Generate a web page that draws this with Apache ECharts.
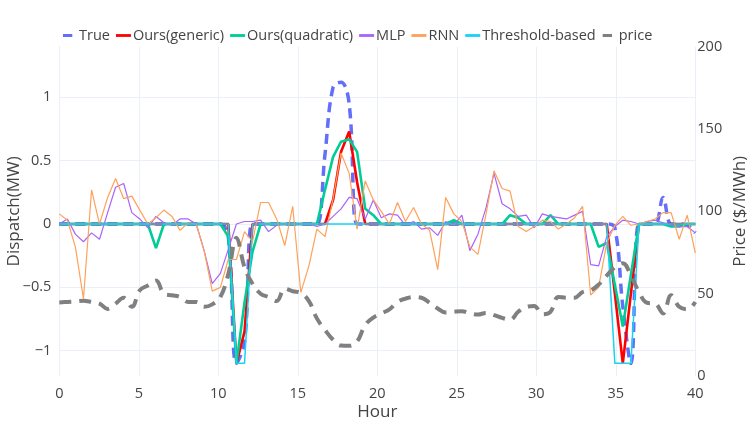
<!DOCTYPE html>
<html><head><meta charset="utf-8">
<script src="https://cdn.jsdelivr.net/npm/echarts@6/dist/echarts.min.js"></script>
<style>html,body{margin:0;padding:0;background:#fff}#c{width:747px;height:421px}</style>
</head><body><div id="c"></div>
<script>
const hours = [0,0.51,1.01,1.52,2.03,2.53,3.04,3.54,4.05,4.56,5.06,5.57,6.08,6.58,7.09,7.59,8.10,8.61,9.11,9.62,10.13,10.63,11.14,11.65,12.15,12.66,13.16,13.67,14.18,14.68,15.19,15.70,16.20,16.71,17.22,17.72,18.23,18.73,19.24,19.75,20.25,20.76,21.27,21.77,22.28,22.78,23.29,23.80,24.30,24.81,25.32,25.82,26.33,26.84,27.34,27.85,28.35,28.86,29.37,29.87,30.38,30.89,31.39,31.90,32.41,32.91,33.42,33.92,34.43,34.94,35.44,35.95,36.46,36.96,37.47,37.97,38.48,38.99,39.49,40.00];
const trueDispatch = [0,0,0,0,0,0,0,0,0,0, 0,0,0,0,0,0,0,0,0,0, 0,-0.1,-1.1,-0.93,0,0,0,0,0,0, 0,0,0,0.55,1.08,1.12,0.95,0,0,0, 0,0,0,0,0,0,0,0,0,0, 0,0,0,0,0,0,0,0,0,0, 0,0,0,0,0,0,0,0,0,-0.03, -0.65,-1.1,0,0,0,0.21,0,0,-0.01,-0.07];
const oursGeneric = [0,0,0,0,0,0,0,0,0,0, 0,0,0,0,0,0,0,0,0,0, 0,0,-1.1,-0.85,0,0,0,0,0,0, 0,0,0,0,0.19,0.57,0.73,0.33,0,0, 0,0,0,0,0,0,0,0,0,0, 0,0,0,0,0,0,0,0,0,0, 0,0,0,0,0,0,0,0,0,-0.55, -1.1,-0.55,0,0,0,0,0,0,0,0];
const oursQuadratic = [0,0,0,0,0,0,0,0,0,0, 0,0,-0.19,0,0,0,0,0,0,0, 0,-0.1,-1.1,-0.62,-0.22,0,0,0,0,0, 0,0,0,0.27,0.53,0.65,0.67,0.57,0.12,0.07, 0,0,0,0,0,0,0,0,0,0.03, 0,0,0,0,0,0,0.07,0.05,0,0, 0,0.07,0,0,0,0,0,-0.18,-0.15,-0.48, -0.81,-0.4,0,0,0,0,-0.02,-0.02,0,0];
const mlp = [0,0.04,-0.08,-0.14,-0.07,-0.12,0.09,0.29,0.32,0.09, 0.04,-0.03,0.06,0.01,-0.01,0.04,0.04,0,-0.21,-0.47, -0.39,-0.2,0,0.02,0.02,0.03,-0.06,-0.01,0,0, 0,0,-0.02,0,0.06,0.12,0.21,0.2,0.04,0.19, 0.05,0.08,0.07,-0.01,0.02,-0.04,-0.03,-0.09,0.02,-0.01, 0.07,-0.21,-0.08,0.13,0.4,0.16,0.12,0.06,0.07,-0.03, 0.08,0.06,0.05,0.04,0.07,0.1,-0.32,-0.33,-0.1,-0.02, 0.03,0.02,0,0.02,0.03,0.01,-0.01,-0.02,-0.02,-0.07];
const rnn = [0.08,0.03,-0.18,-0.59,0.27,0,0.21,0.36,0.2,0.22, 0.11,0,0.05,0.11,0.06,-0.05,0.01,0,-0.21,-0.53, -0.5,-0.28,-0.28,-0.06,-0.14,0.17,0.17,0.04,-0.17,0.14, -0.54,-0.33,-0.04,-0.1,0.2,0.56,0.4,-0.04,0.34,0.19, 0.1,0,0.17,0.02,0.13,0,-0.05,-0.36,0.21,0.08, 0.02,-0.18,-0.24,0.08,0.42,0.28,0.26,-0.02,-0.06,-0.02, 0.03,0.02,-0.04,0,0.05,0.14,-0.56,-0.5,-0.15,-0.01, 0.06,-0.01,0,0.02,0.04,0.09,0.09,-0.12,0.07,-0.23];
const thresholdBased = [0,0,0,0,0,0,0,0,0,0, 0,0,0,0,0,0,0,0,0,0, 0,0,-1.1,-1.1,0,0,0,0,0,0, 0,0,0,0,0,0,0,0,0,0, 0,0,0,0,0,0,0,0,0,0, 0,0,0,0,0,0,0,0,0,0, 0,0,0,0,0,0,0,0,0,-1.1, -1.1,-1.1,0,0,0,0,0,0,0,0];
const price = [44.7,45,45.3,45.7,45,44,40.7,44,47.5,42, 52,55,58,50,49,48,45,45,42,43.5, 48,62,84,66,56,50,48,45.5,53,51.5, 50.5,45.5,35,28,22,18.5,18.3,21,31,35.5, 38,40.5,45,47,48,47.5,44.5,41,38.5,39, 39.3,38,37.3,38.3,37,35.3,34.2,39,42,42.5, 37.5,39,48,47.5,47.5,51,52,55.5,61,66, 68.5,61,51,44.5,44,38,49,42,40.5,45];
const dispatchTicks = [-1,-0.5,0,0.5,1];
const seriesNames = ['True','Ours(generic)','Ours(quadratic)','MLP','RNN','Threshold-based','price'];

const pair = arr => hours.map((h,i)=>[h,arr[i]]);
const fmt = v => (v<0 ? '\u2212'+Math.abs(v) : String(v));
const txt = '#444';
const font = 'Open Sans';
const solidIcon = 'path://M0,0H16V3H0Z';
const dashIcon = 'path://M0,0H0.01V3H0ZM1,0H11V3H1ZM15.99,0H16V3H15.99Z';
const chart = echarts.init(document.getElementById('c'));
chart.setOption({
  animation:false,
  backgroundColor:'#fff',
  textStyle:{fontFamily:font},
  legend:{top:23,left:57,itemWidth:15,itemHeight:3,itemGap:6,
    textStyle:{fontSize:14.5,color:txt,fontFamily:font,padding:[0,0,0,-3]},
    data:seriesNames.map(n=>({name:n,icon:(n==='True'||n==='price')?dashIcon:solidIcon}))},
  grid:{left:59.3,right:51.7,top:46.7,bottom:45,outerBoundsMode:'none',containLabel:false},
  xAxis:{type:'value',min:0,max:40,interval:5,name:'Hour',nameLocation:'middle',nameGap:28,nameMoveOverlap:false,
    nameTextStyle:{fontSize:17,color:txt,fontFamily:font},
    axisLine:{show:true,lineStyle:{color:'#EBF0F8',width:1}},axisTick:{show:false},
    axisLabel:{fontSize:14.5,color:txt,fontFamily:font,margin:10},
    splitLine:{show:true,lineStyle:{color:'#EBF0F8',width:1}}},
  yAxis:[{type:'value',min:-1.2,max:1.4,name:'Dispatch(MW)',nameLocation:'middle',nameGap:37,nameMoveOverlap:false,
    nameTextStyle:{fontSize:17,color:txt,fontFamily:font},
    axisLine:{show:true,lineStyle:{color:'#EBF0F8',width:1}},
    axisTick:{show:false,customValues:dispatchTicks},
    axisLabel:{fontSize:14.5,color:txt,fontFamily:font,margin:8,customValues:dispatchTicks,formatter:fmt},
    splitLine:{show:true,lineStyle:{color:'#EBF0F8',width:1}}},
   {type:'value',min:0,max:200,interval:50,position:'right',name:'Price ($/MWh)',nameLocation:'middle',nameGap:36,nameMoveOverlap:false,
    nameTextStyle:{fontSize:17,color:txt,fontFamily:font},
    axisLine:{show:false},axisTick:{show:false},
    axisLabel:{fontSize:14.5,color:txt,fontFamily:font,margin:2},
    splitLine:{show:false}}],
  series:[
    {name:'True',type:'line',data:pair(trueDispatch),symbol:'none',smooth:0.4,
      lineStyle:{color:'#636EFA',width:3.5,type:[10,6]},itemStyle:{color:'#636EFA'}},
    {name:'Ours(generic)',type:'line',data:pair(oursGeneric),symbol:'none',
      lineStyle:{color:'#FF0000',width:2.6},itemStyle:{color:'#FF0000'}},
    {name:'Ours(quadratic)',type:'line',data:pair(oursQuadratic),symbol:'none',
      lineStyle:{color:'#00CC96',width:2.6},itemStyle:{color:'#00CC96'}},
    {name:'MLP',type:'line',data:pair(mlp),symbol:'none',
      lineStyle:{color:'#AB63FA',width:1.2},itemStyle:{color:'#AB63FA'}},
    {name:'RNN',type:'line',data:pair(rnn),symbol:'none',
      lineStyle:{color:'#FFA15A',width:1.2},itemStyle:{color:'#FFA15A'}},
    {name:'Threshold-based',type:'line',data:pair(thresholdBased),symbol:'none',
      lineStyle:{color:'#19D3F3',width:1.5},itemStyle:{color:'#19D3F3'}},
    {name:'price',type:'line',yAxisIndex:1,data:pair(price),symbol:'none',smooth:0.4,
      lineStyle:{color:'#808080',width:4,type:[12,8]},itemStyle:{color:'#808080'}}
  ]
});
</script></body></html>
